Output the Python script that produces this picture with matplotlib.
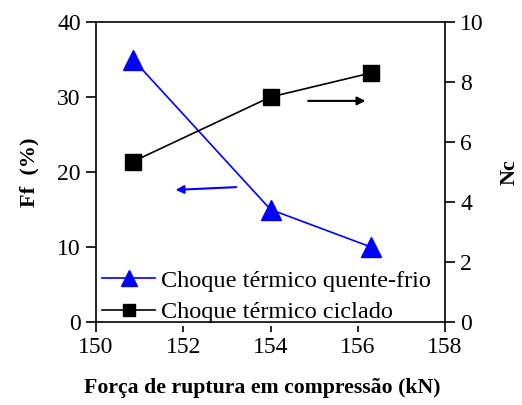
import matplotlib.pyplot as plt

# Force at rupture (kN) for each specimen group
forca = [150.85, 154.0, 156.3]
# Ff (%) - hot/cold thermal shock
ff_quente_frio = [35, 15, 10]
# Nc - cycled thermal shock
nc_ciclado = [5.35, 7.5, 8.3]

plt.rcParams['font.family'] = ['Liberation Serif', 'DejaVu Serif']

fig = plt.figure(figsize=(5.22, 4.05), dpi=100)
ax = fig.add_axes([96 / 522, 83 / 405, 349 / 522, 300 / 405])
ax2 = ax.twinx()

l1, = ax.plot(forca, ff_quente_frio, color='blue', lw=1.2, marker='^',
              markersize=14, clip_on=False, zorder=3)
l2, = ax2.plot(forca, nc_ciclado, color='black', lw=1.2, marker='s',
               markersize=11, clip_on=False, zorder=3)

ax.set_xlim(150, 158)
ax.set_ylim(0, 40)
ax2.set_ylim(0, 10)
ax.set_xticks([150, 152, 154, 156, 158])
ax.set_yticks([0, 10, 20, 30, 40])
ax2.set_yticks([0, 2, 4, 6, 8, 10])

for a in (ax, ax2):
    a.tick_params(labelsize=17, length=7, width=1.2, direction='out', pad=4)
    for s in a.spines.values():
        s.set_linewidth(1.2)
# left/top frame on the first axes, right/bottom on the twin, so the
# legend box hides the lower part of the left spine only
ax.spines['bottom'].set_visible(False)
ax.spines['right'].set_visible(False)
ax2.spines['left'].set_visible(False)
ax2.spines['top'].set_visible(False)

ax.set_xlabel('Força de ruptura em compressão (kN)', fontsize=15.7,
              fontweight='bold')
ax.xaxis.set_label_coords(0.475, -0.185)
ax.set_ylabel('Ff  (%)', fontsize=16, fontweight='bold', labelpad=13)
ax2.set_ylabel('Nc', fontsize=16, fontweight='bold', labelpad=11)

# direction arrows pointing to the corresponding axis
ax.annotate('', xy=(0.22, 0.44), xytext=(0.41, 0.45), xycoords='axes fraction',
            arrowprops=dict(arrowstyle='-|>', color='blue', lw=1.5,
                            mutation_scale=12))
ax.annotate('', xy=(0.78, 0.737), xytext=(0.60, 0.737), xycoords='axes fraction',
            arrowprops=dict(arrowstyle='-|>', color='black', lw=1.5,
                            mutation_scale=12))

leg = ax2.legend([l1, l2], ['Choque térmico quente-frio', 'Choque térmico ciclado'],
                 loc='lower left', bbox_to_anchor=(0.01, -0.012), fontsize=17.5,
                 frameon=True, fancybox=False, edgecolor='none', facecolor='white',
                 framealpha=1, handlelength=2.2, handletextpad=0.25,
                 borderpad=0.1, labelspacing=0.38, borderaxespad=0.0,
                 markerscale=0.8)
leg.set_zorder(2)

fig.savefig('out.png', dpi=100)
